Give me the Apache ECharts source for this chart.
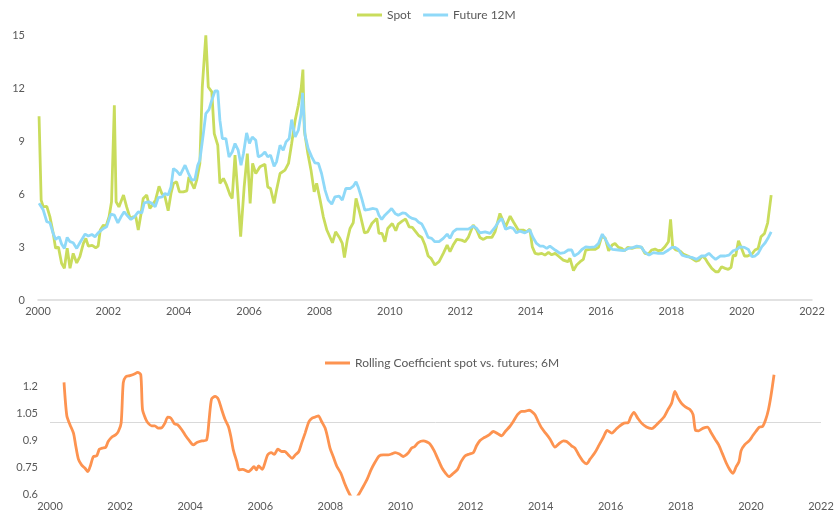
<!DOCTYPE html>
<html>
<head>
<meta charset="utf-8">
<script src="https://cdn.jsdelivr.net/npm/echarts@6/dist/echarts.min.js"></script>
<style>
  html, body { margin: 0; padding: 0; background: #fff; }
  #chart { width: 838px; height: 515px; }
</style>
</head>
<body>
<div id="chart"></div>
<script>
// spot price (decimal year, value)
var spotYears = [2000.03,2000.09,2000.15,2000.25,2000.34,2000.43,2000.5,2000.58,2000.67,2000.75,2000.83,2000.91,2001.0,2001.1,2001.19,2001.29,2001.36,2001.43,2001.54,2001.64,2001.71,2001.77,2001.86,2001.93,2002.02,2002.09,2002.17,2002.22,2002.3,2002.43,2002.52,2002.62,2002.71,2002.78,2002.85,2002.93,2002.99,2003.09,2003.18,2003.28,2003.34,2003.44,2003.52,2003.61,2003.7,2003.78,2003.85,2003.94,2004.02,2004.13,2004.23,2004.29,2004.37,2004.44,2004.51,2004.6,2004.67,2004.77,2004.84,2004.94,2005.01,2005.11,2005.17,2005.27,2005.36,2005.46,2005.52,2005.6,2005.68,2005.76,2005.86,2005.95,2006.03,2006.1,2006.19,2006.31,2006.45,2006.53,2006.61,2006.71,2006.78,2006.88,2007.02,2007.12,2007.21,2007.31,2007.4,2007.48,2007.53,2007.57,2007.67,2007.76,2007.85,2007.92,2008.02,2008.11,2008.21,2008.37,2008.46,2008.58,2008.65,2008.71,2008.79,2008.87,2008.96,2009.04,2009.15,2009.28,2009.37,2009.49,2009.63,2009.69,2009.78,2009.86,2009.94,2010.07,2010.17,2010.24,2010.36,2010.45,2010.55,2010.64,2010.74,2010.82,2010.91,2011.0,2011.09,2011.17,2011.28,2011.4,2011.52,2011.63,2011.71,2011.8,2011.9,2012.04,2012.14,2012.23,2012.37,2012.47,2012.56,2012.66,2012.75,2012.9,2012.99,2013.13,2013.23,2013.29,2013.42,2013.51,2013.56,2013.65,2013.79,2013.89,2013.98,2014.05,2014.13,2014.22,2014.32,2014.41,2014.51,2014.6,2014.7,2014.79,2014.93,2015.06,2015.12,2015.22,2015.31,2015.41,2015.5,2015.57,2015.69,2015.83,2015.93,2016.02,2016.12,2016.22,2016.32,2016.4,2016.5,2016.59,2016.67,2016.76,2016.88,2016.97,2017.06,2017.16,2017.25,2017.35,2017.44,2017.54,2017.63,2017.73,2017.82,2017.92,2017.98,2018.04,2018.13,2018.25,2018.34,2018.47,2018.58,2018.7,2018.79,2018.88,2018.96,2019.05,2019.15,2019.26,2019.34,2019.43,2019.53,2019.62,2019.7,2019.76,2019.83,2019.91,2019.98,2020.08,2020.17,2020.29,2020.38,2020.47,2020.55,2020.65,2020.74,2020.84];
var spotValues = [10.4,5.65,5.27,5.3,4.7,3.8,2.93,3.0,2.08,1.8,2.93,1.8,2.64,2.1,2.45,3.2,3.49,3.05,3.09,2.96,3.05,3.96,4.24,4.15,4.71,5.56,11.02,5.56,5.27,5.94,5.27,4.62,4.71,4.71,3.96,4.9,5.75,5.94,5.18,5.47,5.65,6.44,6.03,5.84,5.05,6.03,6.6,6.69,6.12,6.12,6.18,6.97,6.6,6.31,6.78,7.73,12.06,14.98,12.06,11.78,9.42,8.76,6.6,6.88,6.5,5.94,5.75,8.2,6.03,3.58,6.4,8.29,5.47,7.73,7.16,7.54,7.69,6.4,6.31,5.47,6.22,7.16,7.35,7.73,8.86,10.18,11.02,11.97,13.04,9.61,8.29,7.35,6.12,6.6,5.65,4.71,3.96,3.24,3.86,3.49,3.2,2.41,3.39,4.05,4.37,5.75,4.9,3.8,3.86,4.33,4.62,3.77,3.77,3.3,4.05,4.33,3.92,4.3,4.48,4.58,4.14,4.11,3.86,3.65,3.54,3.11,2.49,2.36,1.98,2.17,2.64,3.11,2.73,3.11,3.43,3.39,3.3,3.54,4.24,3.96,3.54,3.43,3.54,3.54,3.86,4.9,4.43,4.14,4.75,4.43,4.43,3.96,3.96,3.86,4.01,3.01,2.64,2.6,2.64,2.54,2.69,2.56,2.64,2.49,2.26,2.17,2.36,1.66,1.98,2.17,2.3,2.83,2.86,2.86,2.98,3.58,3.52,2.78,3.11,3.2,2.98,2.92,2.79,2.98,2.92,2.98,3.01,2.98,2.64,2.6,2.83,2.88,2.79,2.83,3.01,3.3,4.56,3.01,2.83,2.77,2.6,2.49,2.36,2.2,2.26,2.49,2.36,2.07,1.79,1.6,1.6,1.88,1.79,1.73,1.85,2.54,2.49,3.35,3.01,2.49,2.49,2.6,2.83,2.92,3.58,3.77,4.37,5.94];

// 12M future (decimal year, value)
var futYears = [2000.03,2000.15,2000.25,2000.34,2000.43,2000.5,2000.6,2000.67,2000.75,2000.83,2000.91,2001.0,2001.1,2001.19,2001.34,2001.43,2001.53,2001.62,2001.71,2001.86,2001.95,2002.07,2002.17,2002.27,2002.36,2002.45,2002.55,2002.64,2002.74,2002.85,2002.95,2003.02,2003.14,2003.24,2003.33,2003.42,2003.53,2003.61,2003.7,2003.78,2003.85,2003.94,2004.04,2004.18,2004.27,2004.37,2004.46,2004.54,2004.6,2004.7,2004.77,2004.86,2004.94,2005.03,2005.11,2005.17,2005.24,2005.34,2005.43,2005.52,2005.6,2005.69,2005.77,2005.84,2005.93,2006.01,2006.09,2006.19,2006.26,2006.36,2006.45,2006.53,2006.61,2006.71,2006.78,2006.88,2006.97,2007.05,2007.14,2007.21,2007.31,2007.4,2007.48,2007.52,2007.59,2007.68,2007.78,2007.87,2007.97,2008.06,2008.16,2008.25,2008.35,2008.44,2008.56,2008.65,2008.75,2008.87,2008.96,2009.04,2009.1,2009.2,2009.29,2009.41,2009.53,2009.63,2009.69,2009.77,2009.86,2009.96,2010.05,2010.15,2010.24,2010.36,2010.45,2010.55,2010.64,2010.74,2010.82,2010.91,2011.0,2011.09,2011.19,2011.28,2011.4,2011.52,2011.63,2011.71,2011.8,2011.9,2012.04,2012.23,2012.37,2012.47,2012.56,2012.71,2012.85,2012.99,2013.09,2013.18,2013.29,2013.42,2013.51,2013.6,2013.7,2013.84,2013.98,2014.07,2014.17,2014.27,2014.36,2014.46,2014.55,2014.7,2014.84,2014.96,2015.07,2015.17,2015.24,2015.36,2015.46,2015.57,2015.69,2015.83,2015.93,2016.04,2016.13,2016.22,2016.32,2016.5,2016.64,2016.78,2016.93,2017.02,2017.14,2017.24,2017.37,2017.49,2017.63,2017.77,2017.92,2018.02,2018.11,2018.2,2018.31,2018.44,2018.58,2018.72,2018.86,2018.96,2019.07,2019.17,2019.26,2019.39,2019.53,2019.64,2019.76,2019.86,2019.95,2020.08,2020.19,2020.29,2020.38,2020.47,2020.57,2020.67,2020.76,2020.84];
var futValues = [5.47,5.09,4.43,4.37,3.77,3.43,3.58,3.17,2.92,3.54,3.3,3.24,2.92,3.24,3.73,3.62,3.71,3.58,3.8,4.05,4.14,4.86,4.8,4.37,4.71,4.99,4.75,4.56,4.71,4.99,4.93,5.5,5.56,5.47,5.27,5.8,5.84,6.03,5.94,6.4,7.44,7.31,7.07,7.63,7.2,6.78,6.82,7.63,7.91,9.42,10.55,10.78,11.31,11.83,11.83,10.18,9.14,9.14,8.1,8.38,8.86,8.48,7.63,8.29,9.46,8.86,9.23,9.04,8.1,8.2,8.38,8.1,8.2,7.57,7.82,8.76,8.48,8.95,9.14,10.21,9.23,9.61,10.55,11.72,9.33,8.57,8.1,7.76,7.73,7.16,6.22,5.65,5.43,5.84,5.88,5.65,6.31,6.31,6.44,6.69,6.4,5.75,5.09,5.13,5.18,5.13,4.8,4.56,4.8,4.99,5.18,4.9,4.8,4.93,4.9,4.71,4.62,4.56,4.4,4.3,3.96,3.54,3.49,3.3,3.3,3.49,3.73,3.49,3.86,4.01,4.01,4.01,4.18,4.05,3.8,3.86,3.77,4.11,4.43,4.62,4.0,4.11,4.05,3.8,3.9,3.8,3.96,3.54,3.2,3.05,3.05,2.92,3.05,2.83,2.64,2.68,2.83,2.83,2.49,2.64,2.86,3.01,2.98,3.01,3.2,3.73,3.43,3.1,2.86,2.83,2.79,2.92,2.98,3.05,3.01,2.73,2.54,2.68,2.64,2.64,2.83,2.98,2.98,2.86,2.54,2.45,2.41,2.3,2.49,2.49,2.64,2.45,2.3,2.49,2.49,2.54,2.79,2.86,3.01,2.98,2.86,2.45,2.49,2.64,3.01,3.24,3.54,3.86];

// rolling coefficient spot vs futures, 6M (decimal year, value)
var coefYears = [2000.4,2000.48,2000.57,2000.67,2000.73,2000.81,2000.9,2001.0,2001.08,2001.16,2001.24,2001.33,2001.41,2001.49,2001.59,2001.66,2001.76,2001.87,2001.95,2002.03,2002.09,2002.16,2002.28,2002.41,2002.5,2002.59,2002.64,2002.73,2002.8,2002.9,2002.99,2003.09,2003.18,2003.28,2003.36,2003.45,2003.55,2003.64,2003.76,2003.87,2003.97,2004.09,2004.19,2004.33,2004.47,2004.54,2004.61,2004.71,2004.8,2004.9,2004.99,2005.09,2005.16,2005.23,2005.33,2005.4,2005.5,2005.66,2005.73,2005.82,2005.89,2005.95,2006.06,2006.13,2006.21,2006.31,2006.4,2006.5,2006.61,2006.7,2006.8,2006.91,2007.0,2007.1,2007.18,2007.28,2007.39,2007.48,2007.57,2007.66,2007.75,2007.85,2007.92,2007.99,2008.08,2008.18,2008.3,2008.4,2008.49,2008.59,2008.7,2008.8,2008.91,2009.04,2009.16,2009.27,2009.39,2009.51,2009.65,2009.74,2009.85,2009.97,2010.08,2010.22,2010.32,2010.41,2010.51,2010.65,2010.75,2010.84,2010.96,2011.08,2011.19,2011.29,2011.38,2011.51,2011.63,2011.73,2011.84,2011.97,2012.08,2012.17,2012.27,2012.39,2012.53,2012.65,2012.78,2012.89,2012.99,2013.12,2013.22,2013.34,2013.46,2013.55,2013.67,2013.74,2013.84,2013.93,2014.03,2014.14,2014.27,2014.41,2014.52,2014.65,2014.74,2014.88,2014.98,2015.09,2015.22,2015.31,2015.41,2015.55,2015.67,2015.79,2015.9,2016.03,2016.14,2016.26,2016.38,2016.5,2016.57,2016.66,2016.77,2016.88,2017.02,2017.17,2017.28,2017.4,2017.53,2017.64,2017.74,2017.83,2017.92,2018.02,2018.13,2018.26,2018.35,2018.42,2018.51,2018.64,2018.76,2018.87,2018.99,2019.08,2019.18,2019.3,2019.4,2019.49,2019.58,2019.66,2019.72,2019.82,2019.96,2020.05,2020.14,2020.24,2020.33,2020.42,2020.5,2020.57,2020.66];
var coefValues = [1.225,1.038,0.988,0.941,0.875,0.795,0.763,0.744,0.725,0.763,0.81,0.813,0.851,0.857,0.862,0.894,0.918,0.931,0.95,0.997,1.222,1.256,1.263,1.272,1.281,1.268,1.072,1.02,0.997,0.982,0.982,0.969,0.97,0.997,1.031,1.025,0.993,0.988,0.96,0.926,0.9,0.875,0.888,0.897,0.903,1.016,1.132,1.147,1.132,1.072,1.02,0.978,0.922,0.847,0.781,0.735,0.738,0.725,0.735,0.753,0.735,0.757,0.738,0.772,0.819,0.832,0.822,0.851,0.838,0.838,0.819,0.8,0.819,0.838,0.885,0.941,1.006,1.025,1.031,1.038,1.006,0.969,0.918,0.857,0.81,0.757,0.716,0.663,0.622,0.585,0.57,0.594,0.632,0.679,0.735,0.776,0.813,0.819,0.819,0.824,0.832,0.824,0.81,0.829,0.857,0.866,0.888,0.897,0.892,0.881,0.843,0.791,0.744,0.716,0.697,0.716,0.738,0.781,0.813,0.824,0.832,0.87,0.9,0.916,0.931,0.95,0.937,0.926,0.95,0.978,1.006,1.044,1.063,1.063,1.069,1.063,1.044,1.006,0.969,0.941,0.907,0.862,0.881,0.897,0.894,0.87,0.857,0.819,0.781,0.769,0.795,0.832,0.875,0.918,0.956,0.941,0.96,0.982,0.997,1.0,1.031,1.057,1.025,0.997,0.975,0.966,0.982,1.006,1.034,1.075,1.109,1.175,1.138,1.107,1.088,1.073,1.044,0.956,0.954,0.969,0.975,0.941,0.903,0.875,0.829,0.772,0.735,0.716,0.753,0.781,0.843,0.875,0.9,0.926,0.95,0.975,0.978,1.016,1.072,1.147,1.268];

function pairs(xs, ys) {
  return xs.map(function (x, i) { return [x, ys[i]]; });
}

var textColor = '#595959';
var font = 'Lato, "Open Sans", sans-serif';

var chart = echarts.init(document.getElementById('chart'));
var option = {
  animation: false,
  textStyle: { fontFamily: font, color: textColor },
  legend: [
    {
      data: ['Spot', 'Future 12M'],
      top: 4, left: 352,
      icon: 'rect', itemWidth: 25, itemHeight: 3, itemGap: 12,
      textStyle: { color: textColor, fontSize: 12, fontFamily: font }
    },
    {
      data: ['Rolling Coefficient spot vs. futures; 6M'],
      top: 352, left: 320,
      icon: 'rect', itemWidth: 25, itemHeight: 3,
      textStyle: { color: textColor, fontSize: 12, fontFamily: font }
    }
  ],
  grid: [
    { left: 38, right: 26, top: 35, height: 265 },
    { left: 50, right: 17, top: 369, height: 125 }
  ],
  xAxis: [
    {
      type: 'value', gridIndex: 0, min: 2000, max: 2022, interval: 2,
      axisLine: { show: true, lineStyle: { color: '#d9d9d9', width: 1.5 } },
      axisTick: { show: false }, splitLine: { show: false },
      axisLabel: { color: textColor, fontSize: 11, margin: 6, formatter: function (v) { return String(v); } }
    },
    {
      type: 'value', gridIndex: 1, min: 2000, max: 2022, interval: 2,
      axisLine: { show: false }, axisTick: { show: false }, splitLine: { show: false },
      axisLabel: { color: textColor, fontSize: 11, margin: 7, formatter: function (v) { return String(v); } }
    }
  ],
  yAxis: [
    {
      type: 'value', gridIndex: 0, min: 0, max: 15, interval: 3,
      axisLine: { show: false }, axisTick: { show: false }, splitLine: { show: false },
      axisLabel: { color: textColor, fontSize: 11, margin: 13 }
    },
    {
      type: 'value', gridIndex: 1, min: 0.6, max: 1.3, interval: 0.15,
      axisLine: { show: false }, axisTick: { show: false }, splitLine: { show: false },
      axisLabel: { color: textColor, fontSize: 11, margin: 12, showMaxLabel: false,
        formatter: function (v) { return String(Math.round(v * 100) / 100); } }
    }
  ],
  series: [
    {
      name: 'Spot', type: 'line', xAxisIndex: 0, yAxisIndex: 0,
      data: pairs(spotYears, spotValues), showSymbol: false, symbol: 'none',
      itemStyle: { color: '#c9dc5c' },
      lineStyle: { color: '#c9dc5c', width: 2.8 }
    },
    {
      name: 'Future 12M', type: 'line', xAxisIndex: 0, yAxisIndex: 0,
      data: pairs(futYears, futValues), showSymbol: false, symbol: 'none',
      itemStyle: { color: '#8fd9f8' },
      lineStyle: { color: '#8fd9f8', width: 2.8 }
    },
    {
      name: 'Rolling Coefficient spot vs. futures; 6M', type: 'line', xAxisIndex: 1, yAxisIndex: 1,
      data: pairs(coefYears, coefValues), showSymbol: false, symbol: 'none', smooth: 0.25, clip: true,
      itemStyle: { color: '#fd9350' },
      lineStyle: { color: '#fd9350', width: 2.8 },
      z: 3,
      markLine: {
        silent: true, symbol: 'none', label: { show: false }, z: 1,
        lineStyle: { color: '#d9d9d9', type: 'solid', width: 1 },
        data: [{ yAxis: 1 }]
      }
    }
  ]
};
chart.setOption(option);
</script>
</body>
</html>
